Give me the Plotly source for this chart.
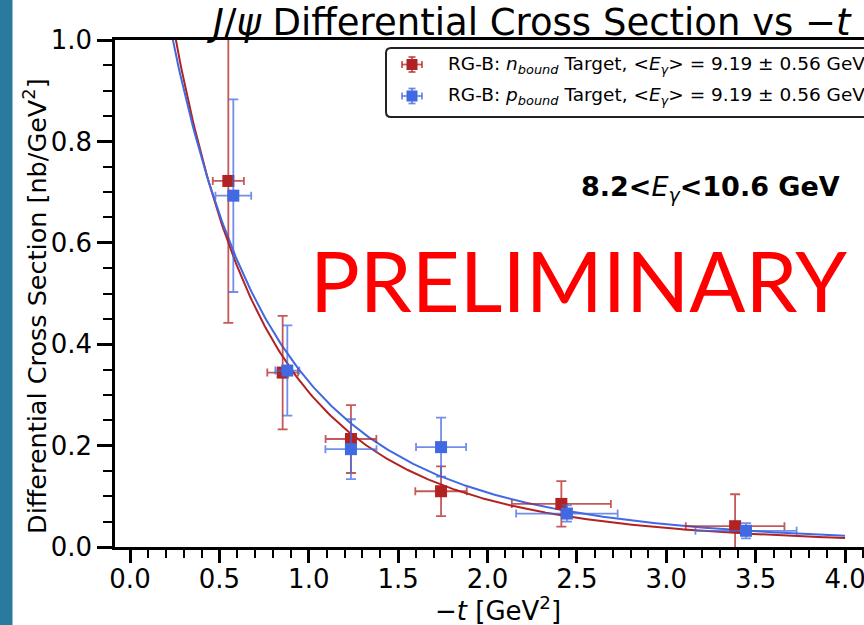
import numpy as np
import plotly.graph_objects as go

# ---- measured points: bound neutron target ----
t_n = [0.55, 0.854, 1.236, 1.74, 2.413, 3.385]
xs_n = [0.722, 0.344, 0.213, 0.110, 0.085, 0.041]
xs_n_err = [0.28, 0.112, 0.067, 0.049, 0.045, 0.063]
t_n_err = [0.087, 0.086, 0.142, 0.144, 0.277, 0.276]

# ---- measured points: bound proton target ----
t_p = [0.578, 0.88, 1.236, 1.74, 2.444, 3.446]
xs_p = [0.693, 0.348, 0.193, 0.197, 0.066, 0.032]
xs_p_err = [0.19, 0.089, 0.059, 0.058, 0.016, 0.015]
t_p_err = [0.10, 0.067, 0.143, 0.14, 0.284, 0.283]

# ---- dipole fits  A / (1 + |t|/m2)^4 ----
fit_n = {"A": 1.658, "m2": 1.90}
fit_p = {"A": 1.535, "m2": 2.115}
t_fit_max = 4.0

x_ticks = [0.0, 0.5, 1.0, 1.5, 2.0, 2.5, 3.0, 3.5, 4.0]
y_ticks = [0.0, 0.2, 0.4, 0.6, 0.8, 1.0]

label_n = "RG-B: <i>n</i><sub><i>bound</i></sub> Target, &lt;<i>E</i><sub><i>γ</i></sub>&gt; = 9.19 ± 0.56 GeV"
label_p = "RG-B: <i>p</i><sub><i>bound</i></sub> Target, &lt;<i>E</i><sub><i>γ</i></sub>&gt; = 9.19 ± 0.56 GeV"

RED = "#B22222"
BLUE = "#4169E1"
RED_ERR = "rgba(178,34,34,0.75)"
BLUE_ERR = "rgba(65,105,225,0.75)"
FONT = "DejaVu Sans"


def dipole(t, A, m2):
    return A / (1.0 + t / m2) ** 4


t_grid = np.linspace(0.0, t_fit_max, 400)

fig = go.Figure()

fig.add_trace(go.Scatter(
    x=t_grid, y=dipole(t_grid, **fit_n), mode="lines",
    line=dict(color=RED, width=2), showlegend=False, hoverinfo="skip"))
fig.add_trace(go.Scatter(
    x=t_grid, y=dipole(t_grid, **fit_p), mode="lines",
    line=dict(color=BLUE, width=2), showlegend=False, hoverinfo="skip"))

fig.add_trace(go.Scatter(
    x=t_n, y=xs_n, mode="markers", name=label_n, showlegend=False,
    marker=dict(symbol="square", size=12, color=RED),
    error_y=dict(type="data", array=xs_n_err, color=RED_ERR, thickness=1.8, width=5),
    error_x=dict(type="data", array=t_n_err, color=RED_ERR, thickness=1.8, width=4)))
fig.add_trace(go.Scatter(
    x=t_p, y=xs_p, mode="markers", name=label_p, showlegend=False,
    marker=dict(symbol="square", size=12, color=BLUE),
    error_y=dict(type="data", array=xs_p_err, color=BLUE_ERR, thickness=1.8, width=5),
    error_x=dict(type="data", array=t_p_err, color=BLUE_ERR, thickness=1.8, width=4)))

W, H = 864, 625
L, R, T, B = 115, 0, 40, 78
pw, ph = W - L - R, H - T - B


def px(xpix):
    return (xpix - L) / pw


def py(ypix):
    return (H - B - ypix) / ph


fig.update_layout(
    width=W, height=H,
    margin=dict(l=L, r=R, t=T, b=B, pad=0),
    paper_bgcolor="white", plot_bgcolor="white",
    font=dict(family=FONT, color="black", size=26),
    showlegend=False,
    xaxis=dict(
        range=[-0.0839, 4.106], tickmode="array", tickvals=x_ticks,
        ticktext=[f"{v:.1f}" for v in x_ticks],
        ticks="outside", ticklen=13, tickwidth=2.5, tickcolor="black",
        ticklabeloverflow="allow", ticklabelstandoff=-6,
        showline=True, linewidth=2.5, linecolor="black", mirror=True,
        showgrid=False, zeroline=False, automargin=False,
        minor=dict(dtick=0.1, tick0=0, ticks="outside", ticklen=8,
                   tickwidth=2.2, tickcolor="black", showgrid=False),
        tickfont=dict(family=FONT, size=26),
    ),
    yaxis=dict(
        range=[0, 1.0], tickmode="array", tickvals=y_ticks,
        ticktext=[f"{v:.1f}" for v in y_ticks],
        ticks="outside", ticklen=15, tickwidth=2.5, tickcolor="black",
        showline=True, linewidth=2.5, linecolor="black", mirror=False,
        showgrid=False, zeroline=False, automargin=False,
        minor=dict(dtick=0.05, tick0=0, ticks="outside", ticklen=9,
                   tickwidth=2.2, tickcolor="black", showgrid=False),
        tickfont=dict(family=FONT, size=26),
    ),
)

# side stripe
fig.add_shape(type="rect", xref="paper", yref="paper",
              x0=px(0), x1=px(12.5), y0=py(H), y1=py(0),
              fillcolor="rgb(42,122,158)", line=dict(width=0), layer="below")

# ---- legend box (rounded frame running off the right edge) ----
lx0, lx1, ly0, ly1, rad = 386, 890, 48, 117, 5
frame = (
    f"M {px(lx0 + rad)} {py(ly0)} L {px(lx1 - rad)} {py(ly0)} "
    f"Q {px(lx1)} {py(ly0)} {px(lx1)} {py(ly0 + rad)} "
    f"L {px(lx1)} {py(ly1 - rad)} Q {px(lx1)} {py(ly1)} {px(lx1 - rad)} {py(ly1)} "
    f"L {px(lx0 + rad)} {py(ly1)} Q {px(lx0)} {py(ly1)} {px(lx0)} {py(ly1 - rad)} "
    f"L {px(lx0)} {py(ly0 + rad)} Q {px(lx0)} {py(ly0)} {px(lx0 + rad)} {py(ly0)} Z"
)
fig.add_shape(type="path", xref="paper", yref="paper", path=frame,
              fillcolor="white", line=dict(color="#222222", width=2), layer="above")


def legend_key(cx, cy, color, err_color):
    """Small marker-with-error-bars glyph for a legend row (pixel centre)."""
    hw, hh, cap, half = 10, 7.5, 3.5, 5.5
    segs = [
        (cx - hw, cy, cx + hw, cy),
        (cx, cy - hh, cx, cy + hh),
        (cx - hw, cy - cap, cx - hw, cy + cap),
        (cx + hw, cy - cap, cx + hw, cy + cap),
        (cx - cap, cy - hh, cx + cap, cy - hh),
        (cx - cap, cy + hh, cx + cap, cy + hh),
    ]
    for x0, y0, x1, y1 in segs:
        fig.add_shape(type="line", xref="paper", yref="paper",
                      x0=px(x0), y0=py(y0), x1=px(x1), y1=py(y1),
                      line=dict(color=err_color, width=1.8), layer="above")
    fig.add_shape(type="rect", xref="paper", yref="paper",
                  x0=px(cx - half), x1=px(cx + half),
                  y0=py(cy + half), y1=py(cy - half),
                  fillcolor=color, line=dict(width=0), layer="above")


rows = [(64.5, label_n, RED, RED_ERR), (96, label_p, BLUE, BLUE_ERR)]
for cy, text, col, ecol in rows:
    legend_key(412, cy, col, ecol)
    fig.add_annotation(xref="paper", yref="paper", showarrow=False,
                       text=text, x=px(446), y=py(cy), xanchor="left",
                       yanchor="middle",
                       font=dict(family=FONT, size=18.5, color="black"))

annotations = [
    dict(text="<i>J</i>/<i>ψ</i> Differential Cross Section vs −<i>t</i>",
         x=px(529), y=py(22), xanchor="center", yanchor="middle",
         font=dict(family=FONT, size=37)),
    dict(text="Differential Cross Section [nb/GeV<sup>2</sup>]",
         x=px(35), y=py(306), xanchor="center", yanchor="middle",
         textangle=-90, font=dict(family=FONT, size=25.5)),
    dict(text="−<i>t</i> [GeV<sup>2</sup>]",
         x=px(498), y=py(609), xanchor="center", yanchor="middle",
         font=dict(family=FONT, size=26)),
    dict(text="<b>8.2&lt;</b><i>E</i><sub><i>γ</i></sub><b>&lt;10.6 GeV</b>",
         x=px(842), y=py(188), xanchor="right", yanchor="middle",
         font=dict(family=FONT, size=27)),
    dict(text="PRELIMINARY",
         x=px(578), y=py(280), xanchor="center", yanchor="middle",
         font=dict(family="Lato", size=83, color="#FF0000", weight=400)),
]
for a in annotations:
    fig.add_annotation(xref="paper", yref="paper", showarrow=False, **a)

fig.write_html("out.html")
